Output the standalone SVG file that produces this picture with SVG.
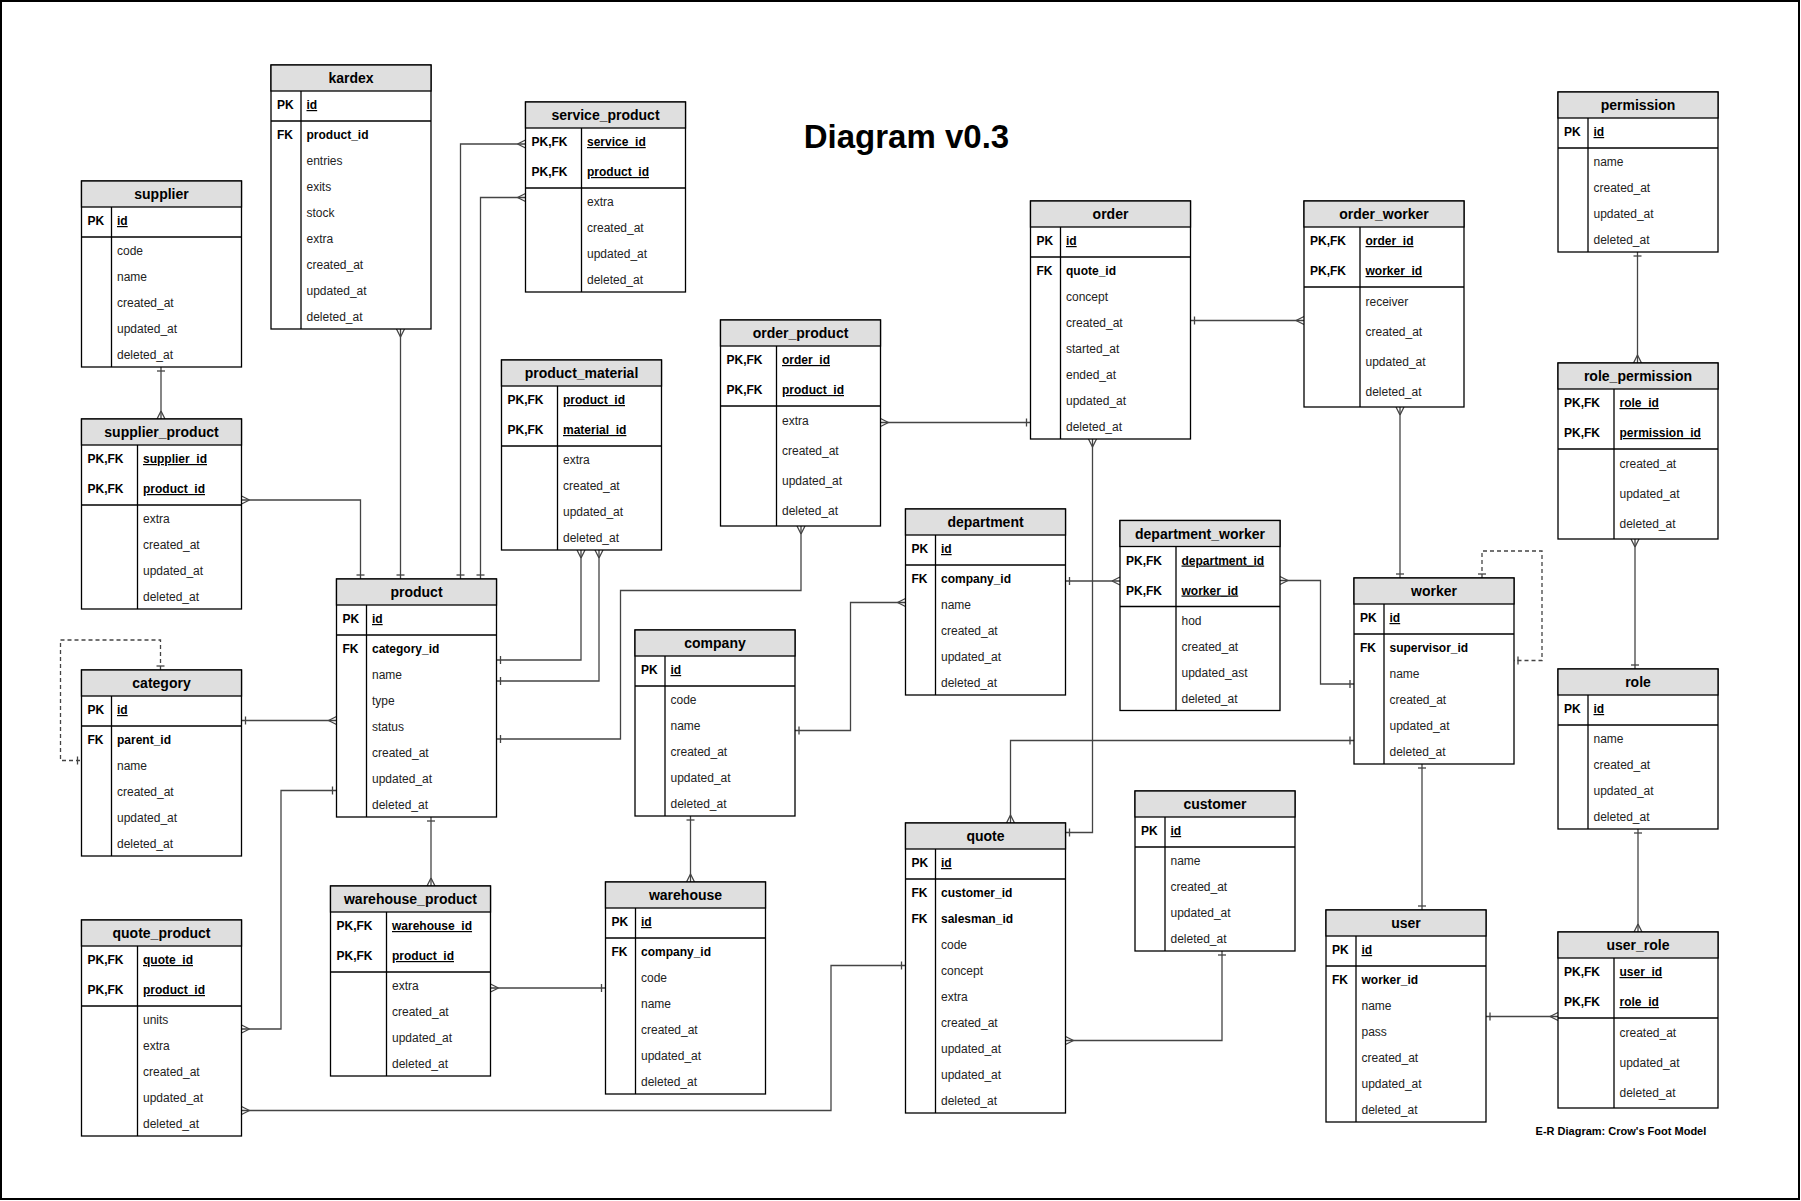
<svg xmlns="http://www.w3.org/2000/svg" width="1801" height="1201" viewBox="0 0 1801 1201">
<style>
.box{fill:#fff;stroke:#000;stroke-width:1.3}
.hdr{fill:#dfdfdf;stroke:#000;stroke-width:1.3}
.ln{stroke:#000;stroke-width:1.3}
text{font-family:"Liberation Sans",Arial,Helvetica,sans-serif;fill:#000}
.t{font-size:14px;font-weight:bold;text-anchor:middle}
.k{font-size:12px;font-weight:bold}
.p{font-size:12px;font-weight:bold;text-decoration:underline}
.f{font-size:12px;font-weight:bold}
.a{font-size:12px;fill:#222}
.c{fill:none;stroke:#444;stroke-width:1.3}
.d{stroke-dasharray:4 3}
.m{fill:none;stroke:#444;stroke-width:1.3}
</style>
<defs>
<marker id="many" viewBox="0 0 10 10" markerWidth="10" markerHeight="10" refX="10" refY="5" orient="auto-start-reverse" markerUnits="userSpaceOnUse" overflow="visible"><path class="m" d="M2,5 L10,1 M2,5 L10,9"/></marker>
<marker id="one" viewBox="0 0 10 10" markerWidth="10" markerHeight="10" refX="10" refY="5" orient="auto-start-reverse" markerUnits="userSpaceOnUse" overflow="visible"><path class="m" d="M6,1 L6,9"/></marker>
</defs>
<rect x="1" y="1" width="1798" height="1198" fill="#fff" stroke="#000" stroke-width="2"/>
<text x="906.5" y="148" style="font-size:33px;font-weight:bold;text-anchor:middle">Diagram v0.3</text>
<text x="1535.6" y="1135" style="font-size:11px;font-weight:bold">E-R Diagram: Crow's Foot Model</text>

<g id="connectors">
<path class="c" d="M161,367 V419" marker-start="url(#one)" marker-end="url(#many)"/>
<path class="c" d="M400.5,329 V579" marker-start="url(#many)" marker-end="url(#one)"/>
<path class="c" d="M525.5,144 H460.5 V579" marker-start="url(#many)" marker-end="url(#one)"/>
<path class="c" d="M525.5,197.5 H480.5 V579" marker-start="url(#many)" marker-end="url(#one)"/>
<path class="c" d="M241.5,500 H360.5 V579" marker-start="url(#many)" marker-end="url(#one)"/>
<path class="c" d="M581,550 V660 H496.5" marker-start="url(#many)" marker-end="url(#one)"/>
<path class="c" d="M599,550 V681 H496.5" marker-start="url(#many)" marker-end="url(#one)"/>
<path class="c" d="M801,526 V590.5 H620.5 V739 H496.5" marker-start="url(#many)" marker-end="url(#one)"/>
<path class="c" d="M241.5,720.5 H336.5" marker-start="url(#one)" marker-end="url(#many)"/>
<path class="c" d="M241.5,1029 H281 V790.5 H336.5" marker-start="url(#many)" marker-end="url(#one)"/>
<path class="c" d="M431,817 V886" marker-start="url(#one)" marker-end="url(#many)"/>
<path class="c" d="M490.5,988 H605.5" marker-start="url(#many)" marker-end="url(#one)"/>
<path class="c" d="M690.5,816 V882" marker-start="url(#one)" marker-end="url(#many)"/>
<path class="c" d="M795,730.5 H850.5 V602.5 H905.5" marker-start="url(#one)" marker-end="url(#many)"/>
<path class="c" d="M1065.5,581 H1120" marker-start="url(#one)" marker-end="url(#many)"/>
<path class="c" d="M1280,580.5 H1320.5 V684 H1354" marker-start="url(#many)" marker-end="url(#one)"/>
<path class="c" d="M1400,407 V578" marker-start="url(#many)" marker-end="url(#one)"/>
<path class="c" d="M1190.5,320.5 H1304" marker-start="url(#one)" marker-end="url(#many)"/>
<path class="c" d="M880.5,422.5 H1030.5" marker-start="url(#many)" marker-end="url(#one)"/>
<path class="c" d="M1092.5,439 V832.5 H1065.5" marker-start="url(#many)" marker-end="url(#one)"/>
<path class="c" d="M1354,740.5 H1010.5 V823" marker-start="url(#one)" marker-end="url(#many)"/>
<path class="c" d="M241.5,1110.5 H831 V965.5 H905.5" marker-start="url(#many)" marker-end="url(#one)"/>
<path class="c" d="M1065.5,1040.5 H1222 V951" marker-start="url(#many)" marker-end="url(#one)"/>
<path class="c" d="M1422,764 V910" marker-start="url(#one)" marker-end="url(#one)"/>
<path class="c" d="M1486,1016.5 H1558" marker-start="url(#one)" marker-end="url(#many)"/>
<path class="c" d="M1638,829 V932" marker-start="url(#one)" marker-end="url(#many)"/>
<path class="c" d="M1637.5,252 V363" marker-start="url(#one)" marker-end="url(#many)"/>
<path class="c" d="M1635,539 V669" marker-start="url(#many)" marker-end="url(#one)"/>
<path class="c d" d="M160.5,670 V640 H60.5 V760.5 H81.5" marker-start="url(#one)" marker-end="url(#one)"/>
<path class="c d" d="M1482,578 V551 H1542 V660.5 H1514" marker-start="url(#one)" marker-end="url(#one)"/>
</g>

<g id="kardex" transform="translate(271,65)">
<rect class="box" width="160" height="264"/><rect class="hdr" width="160" height="26"/>
<text class="t" x="80" y="18">kardex</text>
<line class="ln" x1="0" y1="56" x2="160" y2="56"/><line class="ln" x1="30" y1="26" x2="30" y2="264"/>
<text class="k" x="6" y="44">PK</text><text class="p" x="35.5" y="44">id</text>
<text class="k" x="6" y="74">FK</text><text class="f" x="35.5" y="74">product_id</text>
<text class="a" x="35.5" y="100">entries</text><text class="a" x="35.5" y="126">exits</text><text class="a" x="35.5" y="152">stock</text><text class="a" x="35.5" y="178">extra</text><text class="a" x="35.5" y="204">created_at</text><text class="a" x="35.5" y="230">updated_at</text><text class="a" x="35.5" y="256">deleted_at</text>
</g>

<g id="supplier" transform="translate(81.5,181)">
<rect class="box" width="160" height="186"/><rect class="hdr" width="160" height="26"/>
<text class="t" x="80" y="18">supplier</text>
<line class="ln" x1="0" y1="56" x2="160" y2="56"/><line class="ln" x1="30" y1="26" x2="30" y2="186"/>
<text class="k" x="6" y="44">PK</text><text class="p" x="35.5" y="44">id</text>
<text class="a" x="35.5" y="74">code</text><text class="a" x="35.5" y="100">name</text><text class="a" x="35.5" y="126">created_at</text><text class="a" x="35.5" y="152">updated_at</text><text class="a" x="35.5" y="178">deleted_at</text>
</g>

<g id="supplier_product" transform="translate(81.5,419)">
<rect class="box" width="160" height="190"/><rect class="hdr" width="160" height="26"/>
<text class="t" x="80" y="18">supplier_product</text>
<line class="ln" x1="0" y1="86" x2="160" y2="86"/><line class="ln" x1="56" y1="26" x2="56" y2="190"/>
<text class="k" x="6" y="44">PK,FK</text><text class="p" x="61.5" y="44">supplier_id</text>
<text class="k" x="6" y="74">PK,FK</text><text class="p" x="61.5" y="74">product_id</text>
<text class="a" x="61.5" y="104">extra</text><text class="a" x="61.5" y="130">created_at</text><text class="a" x="61.5" y="156">updated_at</text><text class="a" x="61.5" y="182">deleted_at</text>
</g>

<g id="category" transform="translate(81.5,670)">
<rect class="box" width="160" height="186"/><rect class="hdr" width="160" height="26"/>
<text class="t" x="80" y="18">category</text>
<line class="ln" x1="0" y1="56" x2="160" y2="56"/><line class="ln" x1="30" y1="26" x2="30" y2="186"/>
<text class="k" x="6" y="44">PK</text><text class="p" x="35.5" y="44">id</text>
<text class="k" x="6" y="74">FK</text><text class="f" x="35.5" y="74">parent_id</text>
<text class="a" x="35.5" y="100">name</text><text class="a" x="35.5" y="126">created_at</text><text class="a" x="35.5" y="152">updated_at</text><text class="a" x="35.5" y="178">deleted_at</text>
</g>

<g id="product" transform="translate(336.5,579)">
<rect class="box" width="160" height="238"/><rect class="hdr" width="160" height="26"/>
<text class="t" x="80" y="18">product</text>
<line class="ln" x1="0" y1="56" x2="160" y2="56"/><line class="ln" x1="30" y1="26" x2="30" y2="238"/>
<text class="k" x="6" y="44">PK</text><text class="p" x="35.5" y="44">id</text>
<text class="k" x="6" y="74">FK</text><text class="f" x="35.5" y="74">category_id</text>
<text class="a" x="35.5" y="100">name</text><text class="a" x="35.5" y="126">type</text><text class="a" x="35.5" y="152">status</text><text class="a" x="35.5" y="178">created_at</text><text class="a" x="35.5" y="204">updated_at</text><text class="a" x="35.5" y="230">deleted_at</text>
</g>

<g id="service_product" transform="translate(525.5,102)">
<rect class="box" width="160" height="190"/><rect class="hdr" width="160" height="26"/>
<text class="t" x="80" y="18">service_product</text>
<line class="ln" x1="0" y1="86" x2="160" y2="86"/><line class="ln" x1="56" y1="26" x2="56" y2="190"/>
<text class="k" x="6" y="44">PK,FK</text><text class="p" x="61.5" y="44">service_id</text>
<text class="k" x="6" y="74">PK,FK</text><text class="p" x="61.5" y="74">product_id</text>
<text class="a" x="61.5" y="104">extra</text><text class="a" x="61.5" y="130">created_at</text><text class="a" x="61.5" y="156">updated_at</text><text class="a" x="61.5" y="182">deleted_at</text>
</g>

<g id="product_material" transform="translate(501.5,360)">
<rect class="box" width="160" height="190"/><rect class="hdr" width="160" height="26"/>
<text class="t" x="80" y="18">product_material</text>
<line class="ln" x1="0" y1="86" x2="160" y2="86"/><line class="ln" x1="56" y1="26" x2="56" y2="190"/>
<text class="k" x="6" y="44">PK,FK</text><text class="p" x="61.5" y="44">product_id</text>
<text class="k" x="6" y="74">PK,FK</text><text class="p" x="61.5" y="74">material_id</text>
<text class="a" x="61.5" y="104">extra</text><text class="a" x="61.5" y="130">created_at</text><text class="a" x="61.5" y="156">updated_at</text><text class="a" x="61.5" y="182">deleted_at</text>
</g>

<g id="order_product" transform="translate(720.5,320)">
<rect class="box" width="160" height="206"/><rect class="hdr" width="160" height="26"/>
<text class="t" x="80" y="18">order_product</text>
<line class="ln" x1="0" y1="86" x2="160" y2="86"/><line class="ln" x1="56" y1="26" x2="56" y2="206"/>
<text class="k" x="6" y="44">PK,FK</text><text class="p" x="61.5" y="44">order_id</text>
<text class="k" x="6" y="74">PK,FK</text><text class="p" x="61.5" y="74">product_id</text>
<text class="a" x="61.5" y="105">extra</text><text class="a" x="61.5" y="135">created_at</text><text class="a" x="61.5" y="165">updated_at</text><text class="a" x="61.5" y="195">deleted_at</text>
</g>

<g id="order" transform="translate(1030.5,201)">
<rect class="box" width="160" height="238"/><rect class="hdr" width="160" height="26"/>
<text class="t" x="80" y="18">order</text>
<line class="ln" x1="0" y1="56" x2="160" y2="56"/><line class="ln" x1="30" y1="26" x2="30" y2="238"/>
<text class="k" x="6" y="44">PK</text><text class="p" x="35.5" y="44">id</text>
<text class="k" x="6" y="74">FK</text><text class="f" x="35.5" y="74">quote_id</text>
<text class="a" x="35.5" y="100">concept</text><text class="a" x="35.5" y="126">created_at</text><text class="a" x="35.5" y="152">started_at</text><text class="a" x="35.5" y="178">ended_at</text><text class="a" x="35.5" y="204">updated_at</text><text class="a" x="35.5" y="230">deleted_at</text>
</g>

<g id="order_worker" transform="translate(1304,201)">
<rect class="box" width="160" height="206"/><rect class="hdr" width="160" height="26"/>
<text class="t" x="80" y="18">order_worker</text>
<line class="ln" x1="0" y1="86" x2="160" y2="86"/><line class="ln" x1="56" y1="26" x2="56" y2="206"/>
<text class="k" x="6" y="44">PK,FK</text><text class="p" x="61.5" y="44">order_id</text>
<text class="k" x="6" y="74">PK,FK</text><text class="p" x="61.5" y="74">worker_id</text>
<text class="a" x="61.5" y="105">receiver</text><text class="a" x="61.5" y="135">created_at</text><text class="a" x="61.5" y="165">updated_at</text><text class="a" x="61.5" y="195">deleted_at</text>
</g>

<g id="permission" transform="translate(1558,92)">
<rect class="box" width="160" height="160"/><rect class="hdr" width="160" height="26"/>
<text class="t" x="80" y="18">permission</text>
<line class="ln" x1="0" y1="56" x2="160" y2="56"/><line class="ln" x1="30" y1="26" x2="30" y2="160"/>
<text class="k" x="6" y="44">PK</text><text class="p" x="35.5" y="44">id</text>
<text class="a" x="35.5" y="74">name</text><text class="a" x="35.5" y="100">created_at</text><text class="a" x="35.5" y="126">updated_at</text><text class="a" x="35.5" y="152">deleted_at</text>
</g>

<g id="role_permission" transform="translate(1558,363)">
<rect class="box" width="160" height="176"/><rect class="hdr" width="160" height="26"/>
<text class="t" x="80" y="18">role_permission</text>
<line class="ln" x1="0" y1="86" x2="160" y2="86"/><line class="ln" x1="56" y1="26" x2="56" y2="176"/>
<text class="k" x="6" y="44">PK,FK</text><text class="p" x="61.5" y="44">role_id</text>
<text class="k" x="6" y="74">PK,FK</text><text class="p" x="61.5" y="74">permission_id</text>
<text class="a" x="61.5" y="105">created_at</text><text class="a" x="61.5" y="135">updated_at</text><text class="a" x="61.5" y="165">deleted_at</text>
</g>

<g id="role" transform="translate(1558,669)">
<rect class="box" width="160" height="160"/><rect class="hdr" width="160" height="26"/>
<text class="t" x="80" y="18">role</text>
<line class="ln" x1="0" y1="56" x2="160" y2="56"/><line class="ln" x1="30" y1="26" x2="30" y2="160"/>
<text class="k" x="6" y="44">PK</text><text class="p" x="35.5" y="44">id</text>
<text class="a" x="35.5" y="74">name</text><text class="a" x="35.5" y="100">created_at</text><text class="a" x="35.5" y="126">updated_at</text><text class="a" x="35.5" y="152">deleted_at</text>
</g>

<g id="worker" transform="translate(1354,578)">
<rect class="box" width="160" height="186"/><rect class="hdr" width="160" height="26"/>
<text class="t" x="80" y="18">worker</text>
<line class="ln" x1="0" y1="56" x2="160" y2="56"/><line class="ln" x1="30" y1="26" x2="30" y2="186"/>
<text class="k" x="6" y="44">PK</text><text class="p" x="35.5" y="44">id</text>
<text class="k" x="6" y="74">FK</text><text class="f" x="35.5" y="74">supervisor_id</text>
<text class="a" x="35.5" y="100">name</text><text class="a" x="35.5" y="126">created_at</text><text class="a" x="35.5" y="152">updated_at</text><text class="a" x="35.5" y="178">deleted_at</text>
</g>

<g id="department_worker" transform="translate(1120,520.5)">
<rect class="box" width="160" height="190"/><rect class="hdr" width="160" height="26"/>
<text class="t" x="80" y="18">department_worker</text>
<line class="ln" x1="0" y1="86" x2="160" y2="86"/><line class="ln" x1="56" y1="26" x2="56" y2="190"/>
<text class="k" x="6" y="44">PK,FK</text><text class="p" x="61.5" y="44">department_id</text>
<text class="k" x="6" y="74">PK,FK</text><text class="p" x="61.5" y="74">worker_id</text>
<text class="a" x="61.5" y="104">hod</text><text class="a" x="61.5" y="130">created_at</text><text class="a" x="61.5" y="156">updated_ast</text><text class="a" x="61.5" y="182">deleted_at</text>
</g>

<g id="department" transform="translate(905.5,509)">
<rect class="box" width="160" height="186"/><rect class="hdr" width="160" height="26"/>
<text class="t" x="80" y="18">department</text>
<line class="ln" x1="0" y1="56" x2="160" y2="56"/><line class="ln" x1="30" y1="26" x2="30" y2="186"/>
<text class="k" x="6" y="44">PK</text><text class="p" x="35.5" y="44">id</text>
<text class="k" x="6" y="74">FK</text><text class="f" x="35.5" y="74">company_id</text>
<text class="a" x="35.5" y="100">name</text><text class="a" x="35.5" y="126">created_at</text><text class="a" x="35.5" y="152">updated_at</text><text class="a" x="35.5" y="178">deleted_at</text>
</g>

<g id="company" transform="translate(635,630)">
<rect class="box" width="160" height="186"/><rect class="hdr" width="160" height="26"/>
<text class="t" x="80" y="18">company</text>
<line class="ln" x1="0" y1="56" x2="160" y2="56"/><line class="ln" x1="30" y1="26" x2="30" y2="186"/>
<text class="k" x="6" y="44">PK</text><text class="p" x="35.5" y="44">id</text>
<text class="a" x="35.5" y="74">code</text><text class="a" x="35.5" y="100">name</text><text class="a" x="35.5" y="126">created_at</text><text class="a" x="35.5" y="152">updated_at</text><text class="a" x="35.5" y="178">deleted_at</text>
</g>

<g id="warehouse" transform="translate(605.5,882)">
<rect class="box" width="160" height="212"/><rect class="hdr" width="160" height="26"/>
<text class="t" x="80" y="18">warehouse</text>
<line class="ln" x1="0" y1="56" x2="160" y2="56"/><line class="ln" x1="30" y1="26" x2="30" y2="212"/>
<text class="k" x="6" y="44">PK</text><text class="p" x="35.5" y="44">id</text>
<text class="k" x="6" y="74">FK</text><text class="f" x="35.5" y="74">company_id</text>
<text class="a" x="35.5" y="100">code</text><text class="a" x="35.5" y="126">name</text><text class="a" x="35.5" y="152">created_at</text><text class="a" x="35.5" y="178">updated_at</text><text class="a" x="35.5" y="204">deleted_at</text>
</g>

<g id="warehouse_product" transform="translate(330.5,886)">
<rect class="box" width="160" height="190"/><rect class="hdr" width="160" height="26"/>
<text class="t" x="80" y="18">warehouse_product</text>
<line class="ln" x1="0" y1="86" x2="160" y2="86"/><line class="ln" x1="56" y1="26" x2="56" y2="190"/>
<text class="k" x="6" y="44">PK,FK</text><text class="p" x="61.5" y="44">warehouse_id</text>
<text class="k" x="6" y="74">PK,FK</text><text class="p" x="61.5" y="74">product_id</text>
<text class="a" x="61.5" y="104">extra</text><text class="a" x="61.5" y="130">created_at</text><text class="a" x="61.5" y="156">updated_at</text><text class="a" x="61.5" y="182">deleted_at</text>
</g>

<g id="quote_product" transform="translate(81.5,920)">
<rect class="box" width="160" height="216"/><rect class="hdr" width="160" height="26"/>
<text class="t" x="80" y="18">quote_product</text>
<line class="ln" x1="0" y1="86" x2="160" y2="86"/><line class="ln" x1="56" y1="26" x2="56" y2="216"/>
<text class="k" x="6" y="44">PK,FK</text><text class="p" x="61.5" y="44">quote_id</text>
<text class="k" x="6" y="74">PK,FK</text><text class="p" x="61.5" y="74">product_id</text>
<text class="a" x="61.5" y="104">units</text><text class="a" x="61.5" y="130">extra</text><text class="a" x="61.5" y="156">created_at</text><text class="a" x="61.5" y="182">updated_at</text><text class="a" x="61.5" y="208">deleted_at</text>
</g>

<g id="quote" transform="translate(905.5,823)">
<rect class="box" width="160" height="290"/><rect class="hdr" width="160" height="26"/>
<text class="t" x="80" y="18">quote</text>
<line class="ln" x1="0" y1="56" x2="160" y2="56"/><line class="ln" x1="30" y1="26" x2="30" y2="290"/>
<text class="k" x="6" y="44">PK</text><text class="p" x="35.5" y="44">id</text>
<text class="k" x="6" y="74">FK</text><text class="f" x="35.5" y="74">customer_id</text>
<text class="k" x="6" y="100">FK</text><text class="f" x="35.5" y="100">salesman_id</text>
<text class="a" x="35.5" y="126">code</text><text class="a" x="35.5" y="152">concept</text><text class="a" x="35.5" y="178">extra</text><text class="a" x="35.5" y="204">created_at</text><text class="a" x="35.5" y="230">updated_at</text><text class="a" x="35.5" y="256">updated_at</text><text class="a" x="35.5" y="282">deleted_at</text>
</g>

<g id="customer" transform="translate(1135,791)">
<rect class="box" width="160" height="160"/><rect class="hdr" width="160" height="26"/>
<text class="t" x="80" y="18">customer</text>
<line class="ln" x1="0" y1="56" x2="160" y2="56"/><line class="ln" x1="30" y1="26" x2="30" y2="160"/>
<text class="k" x="6" y="44">PK</text><text class="p" x="35.5" y="44">id</text>
<text class="a" x="35.5" y="74">name</text><text class="a" x="35.5" y="100">created_at</text><text class="a" x="35.5" y="126">updated_at</text><text class="a" x="35.5" y="152">deleted_at</text>
</g>

<g id="user" transform="translate(1326,910)">
<rect class="box" width="160" height="212"/><rect class="hdr" width="160" height="26"/>
<text class="t" x="80" y="18">user</text>
<line class="ln" x1="0" y1="56" x2="160" y2="56"/><line class="ln" x1="30" y1="26" x2="30" y2="212"/>
<text class="k" x="6" y="44">PK</text><text class="p" x="35.5" y="44">id</text>
<text class="k" x="6" y="74">FK</text><text class="f" x="35.5" y="74">worker_id</text>
<text class="a" x="35.5" y="100">name</text><text class="a" x="35.5" y="126">pass</text><text class="a" x="35.5" y="152">created_at</text><text class="a" x="35.5" y="178">updated_at</text><text class="a" x="35.5" y="204">deleted_at</text>
</g>

<g id="user_role" transform="translate(1558,932)">
<rect class="box" width="160" height="176"/><rect class="hdr" width="160" height="26"/>
<text class="t" x="80" y="18">user_role</text>
<line class="ln" x1="0" y1="86" x2="160" y2="86"/><line class="ln" x1="56" y1="26" x2="56" y2="176"/>
<text class="k" x="6" y="44">PK,FK</text><text class="p" x="61.5" y="44">user_id</text>
<text class="k" x="6" y="74">PK,FK</text><text class="p" x="61.5" y="74">role_id</text>
<text class="a" x="61.5" y="105">created_at</text><text class="a" x="61.5" y="135">updated_at</text><text class="a" x="61.5" y="165">deleted_at</text>
</g>
</svg>
